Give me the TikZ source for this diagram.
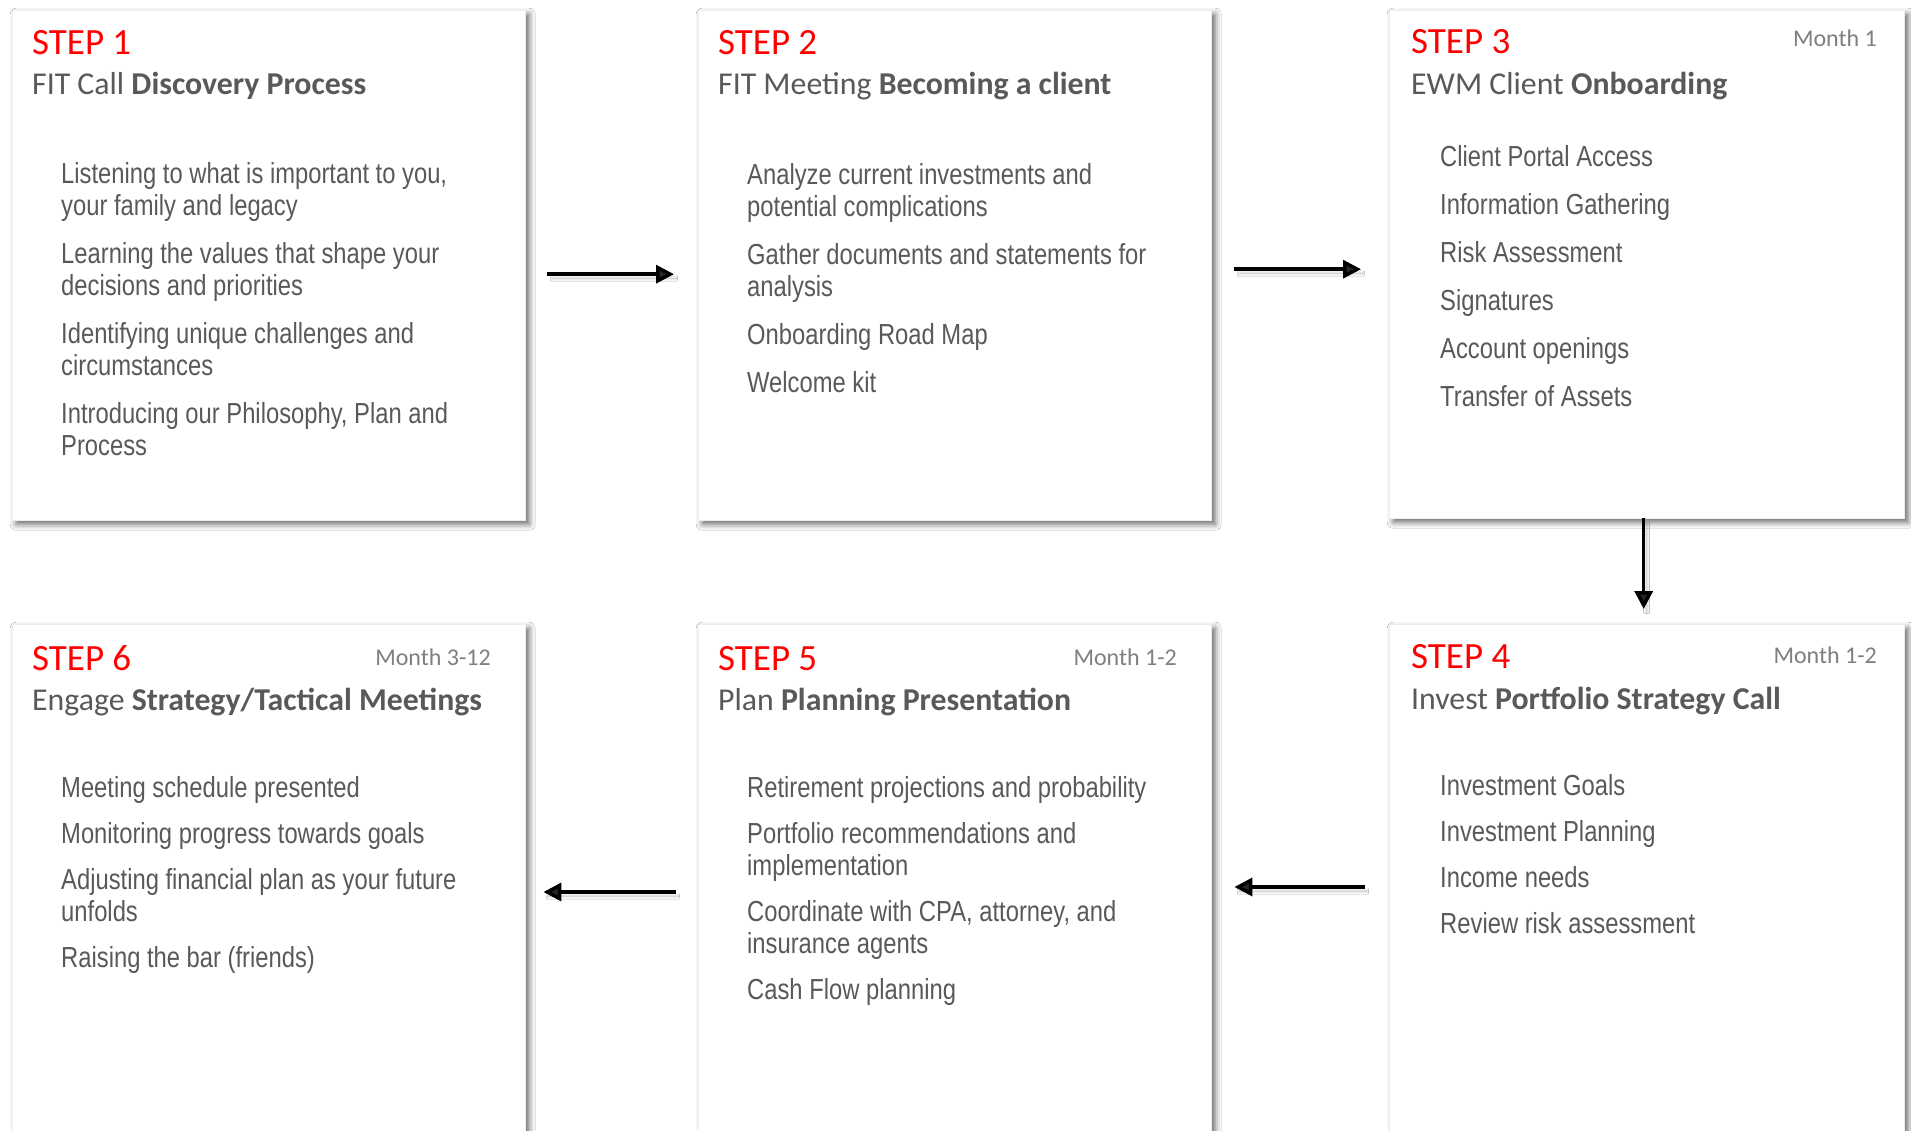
\documentclass[tikz,border=0pt]{standalone}
\usepackage{fontspec}
\setmainfont{Carlito}
\newfontfamily\narrowfont[FakeStretch=0.82]{Liberation Sans}
\usetikzlibrary{arrows.meta,shadows.blur}

\definecolor{stepred}{HTML}{FF0000}
\definecolor{textgray}{HTML}{595959}
\definecolor{monthgray}{HTML}{7F7F7F}

\tikzset{
    card/.style={draw=black!7, fill=white, anchor=north west, minimum width=513pt,
        minimum height=510pt, inner sep=0pt,
        blur shadow={shadow xshift=4pt, shadow yshift=-4pt, shadow blur radius=6pt, shadow opacity=60}},
    steplabel/.style={anchor=base west, inner sep=0pt, text=stepred, font=\fontsize{37}{44}\selectfont},
    subtitle/.style={anchor=base west, inner sep=0pt, text=textgray, font=\fontsize{31.8}{37}\selectfont},
    month/.style={anchor=base east, inner sep=0pt, text=monthgray, font=\fontsize{24}{29}\selectfont},
    items/.style={anchor=north west, inner sep=0pt, align=left, text=textgray,
        font=\narrowfont\fontsize{29}{32}\selectfont},
    flow/.style={line width=3.5pt, -{Triangle[length=18pt,width=18pt]},
        blur shadow={shadow xshift=3pt, shadow yshift=-4pt, shadow blur radius=3pt, shadow opacity=30}}
}

\begin{document}
\begin{tikzpicture}[x=1pt, y=-1pt]
        \useasboundingbox[fill=white] (0,0) rectangle (1911,1131);

        % boxes
        \node[card] (s1) at (12,10) {};
        \node[card] (s2) at (698,10) {};
        \node[card, minimum width=515pt, minimum height=508pt] (s3) at (1389,10) {};
        \node[card, minimum width=515pt, minimum height=540pt] (s4) at (1389,624) {};
        \node[card, minimum height=540pt] (s5) at (698,624) {};
        \node[card, minimum height=540pt] (s6) at (12,624) {};

        % step 1
        \node[steplabel] (t1) at (32,55) {STEP 1};
        \node[subtitle] (h1) at (32,95) {FIT Call \textbf{Discovery Process}};
        \node[items] (b1) at (61,162) {Listening to what is important to you,\\your family and legacy\\[16pt]
            Learning the values that shape your\\decisions and priorities\\[16pt]
            Identifying unique challenges and\\circumstances\\[16pt]
            Introducing our Philosophy, Plan and\\Process};

        % step 2
        \node[steplabel] (t2) at (718,55) {STEP 2};
        \node[subtitle] (h2) at (718,95) {FIT Meeting \textbf{Becoming a client}};
        \node[items] (b2) at (747,163) {Analyze current investments and\\potential complications\\[16pt]
            Gather documents and statements for\\analysis\\[16pt]
            Onboarding Road Map\\[16pt]
            Welcome kit};

        % step 3
        \node[steplabel] (t3) at (1411,54) {STEP 3};
        \node[month] (m3) at (1877,47) {Month 1};
        \node[subtitle] (h3) at (1411,95) {EWM Client \textbf{Onboarding}};
        \node[items] (b3) at (1440,145) {Client Portal Access\\[16pt]
            Information Gathering\\[16pt]
            Risk Assessment\\[16pt]
            Signatures\\[16pt]
            Account openings\\[16pt]
            Transfer of Assets};

        % step 4
        \node[steplabel] (t4) at (1411,668) {STEP 4};
        \node[month] (m4) at (1877,663) {Month 1-2};
        \node[subtitle] (h4) at (1411,709) {Invest \textbf{Portfolio Strategy Call}};
        \node[items] (b4) at (1440,774) {Investment Goals\\[14pt]
            Investment Planning\\[14pt]
            Income needs\\[14pt]
            Review risk assessment};

        % step 5
        \node[steplabel] (t5) at (718,670) {STEP 5};
        \node[month] (m5) at (1177,665) {Month 1-2};
        \node[subtitle] (h5) at (718,710) {Plan \textbf{Planning Presentation}};
        \node[items] (b5) at (747,776) {Retirement projections and probability\\[14pt]
            Portfolio recommendations and\\implementation\\[14pt]
            Coordinate with CPA, attorney, and\\insurance agents\\[14pt]
            Cash Flow planning};

        % step 6
        \node[steplabel] (t6) at (32,670) {STEP 6};
        \node[month] (m6) at (491,665) {Month 3-12};
        \node[subtitle] (h6) at (32,710) {Engage \textbf{Strategy/Tactical Meetings}};
        \node[items] (b6) at (61,776) {Meeting schedule presented\\[14pt]
            Monitoring progress towards goals\\[14pt]
            Adjusting financial plan as your future\\unfolds\\[14pt]
            Raising the bar (friends)};

        % arrows
        \draw[flow] ([xshift=22pt,yshift=-9pt]s1.east) -- ([xshift=-24pt,yshift=-9pt]s2.west);
        \draw[flow] ([xshift=23pt,yshift=-4pt]s2.east) -- ([xshift=-28pt,yshift=-5pt]s3.west);
        \draw[flow] ([xshift=-3pt]s3.south) -- ([xshift=-3pt,yshift=15pt]s4.north);
        \draw[flow] ([xshift=-24pt,yshift=-263pt]s4.north west) -- ([xshift=23pt,yshift=-263pt]s5.north east);
        \draw[flow] ([xshift=-22pt,yshift=-268pt]s5.north west) -- ([xshift=18pt,yshift=-268pt]s6.north east);
    \end{tikzpicture}
\end{document}
